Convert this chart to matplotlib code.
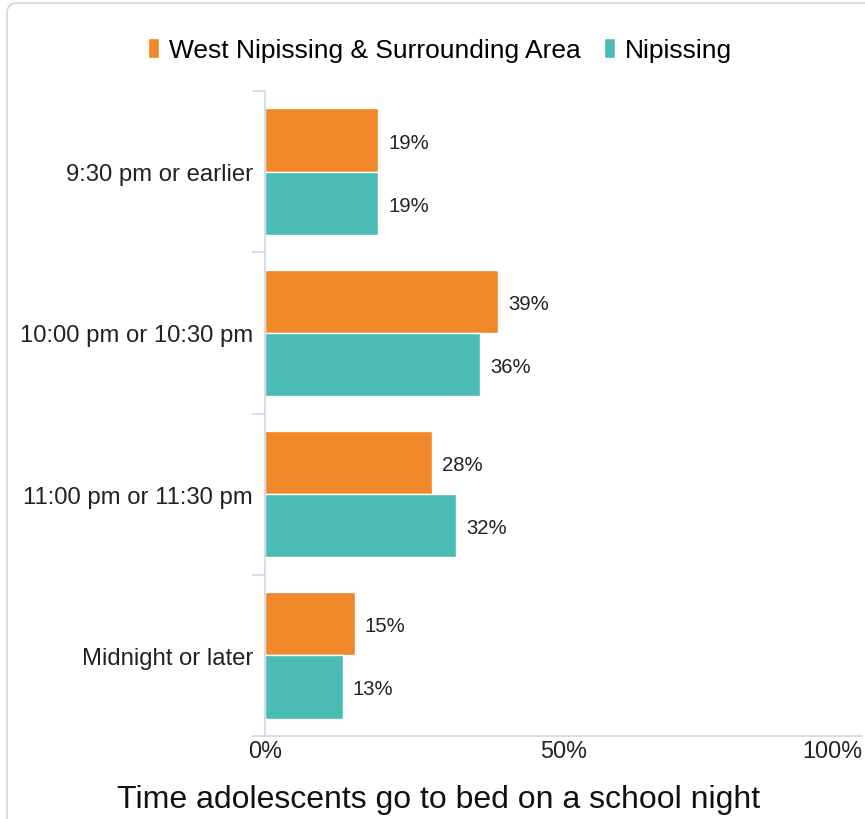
import matplotlib.pyplot as plt
from matplotlib.patches import FancyBboxPatch
import numpy as np

plt.rcParams['font.family'] = ['Liberation Sans', 'DejaVu Sans']

categories = ['9:30 pm or earlier', '10:00 pm or 10:30 pm',
              '11:00 pm or 11:30 pm', 'Midnight or later']
west_nipissing = [19, 39, 28, 15]
nipissing = [19, 36, 32, 13]
series_names = ['West Nipissing & Surrounding Area', 'Nipissing']
x_ticks = [0, 50, 100]
x_tick_labels = ['0%', '50%', '100%']

orange = '#F0882A'
teal = '#4BBCB5'
axis_col = '#CCD6EB'
text_col = '#222222'

W, H = 865, 820
fig = plt.figure(figsize=(W / 100, H / 100), dpi=100)

# light rounded frame round the whole chart
frame = FancyBboxPatch((7 / W, -20 / H), (W + 20) / W, (H + 16) / H,
                       boxstyle='round,pad=0,rounding_size=0.012',
                       transform=fig.transFigure, facecolor='white',
                       edgecolor='#D6D6D6', linewidth=1.2, zorder=-5)
fig.patches.append(frame)

ax = fig.add_axes([265 / W, 1 - 737 / H, (862 - 265) / W, (737 - 92) / H])
ax.set_facecolor('none')

y = np.arange(len(categories))
h = 0.392
b1 = ax.barh(y - h / 2, west_nipissing, height=h, color=orange,
             edgecolor='white', linewidth=1, label=series_names[0])
b2 = ax.barh(y + h / 2, nipissing, height=h, color=teal,
             edgecolor='white', linewidth=1, label=series_names[1])

for bars, vals in ((b1, west_nipissing), (b2, nipissing)):
    for bar, v in zip(bars, vals):
        ax.annotate(f'{v}%', (bar.get_width(), bar.get_y() + bar.get_height() / 2),
                    xytext=(10, -2), textcoords='offset pixels',
                    ha='left', va='center', fontsize=14.6, color=text_col)

ax.set_xlim(0, 100)
ax.set_ylim(len(categories) - 0.5, -0.5)

ax.set_yticks(y)
ax.set_yticklabels(categories, fontsize=17.2, color=text_col)
ax.set_yticks(np.arange(len(categories) + 1) - 0.5, minor=True)
ax.tick_params(axis='y', which='major', length=0, pad=8.6)
ax.tick_params(axis='y', which='minor', length=9.4, color=axis_col, width=1.2)

ax.set_xticks(x_ticks)
ax.set_xticklabels(x_tick_labels, fontsize=16.8, color=text_col)
ax.tick_params(axis='x', length=0, pad=2)
ax.get_xticklabels()[-1].set_horizontalalignment('right')

for s in ('top', 'right'):
    ax.spines[s].set_visible(False)
for s in ('left', 'bottom'):
    ax.spines[s].set_color(axis_col)
    ax.spines[s].set_linewidth(1.2)

fig.legend(handles=[b1, b2], loc='center', bbox_to_anchor=(440 / W, 1 - 51 / H),
           ncol=2, frameon=False, fontsize=19, handlelength=0.42,
           handleheight=0.78, handletextpad=0.35, columnspacing=0.9)

fig.text(439 / W, 1 - 800 / H, 'Time adolescents go to bed on a school night',
         ha='center', va='center', fontsize=23, color='#111111')

fig.savefig('out.png', dpi=100)
